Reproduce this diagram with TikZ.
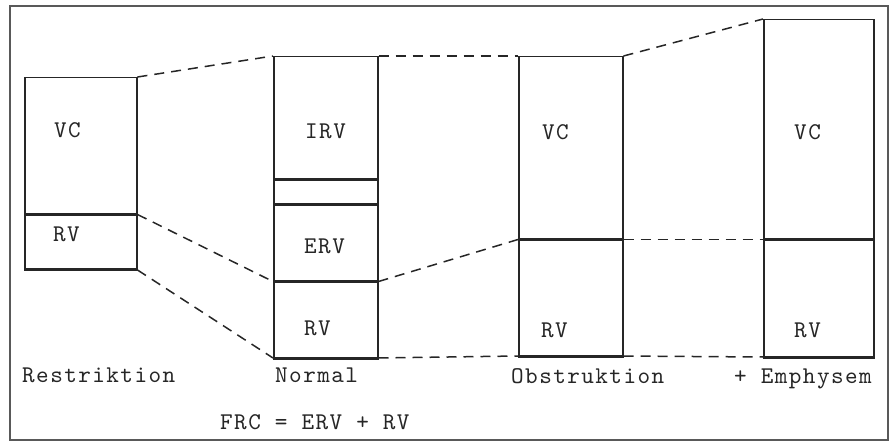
\documentclass[tikz,border=0pt]{standalone}
\usepackage{fontspec}
\usepackage{tikz}
\usetikzlibrary{positioning}
\definecolor{ink}{HTML}{262626}
\newfontfamily\typewfont{lmmono10-regular}[Extension=.otf, LetterSpace=6]
\newcommand{\typew}{\typewfont\fontsize{24}{29}\selectfont}
\tikzset{
  seg/.style 2 args={draw=ink, line width=1.5pt, minimum width=#1, minimum height=#2, inner sep=0pt},
  link/.style={ink, line width=1.5pt, dash pattern=on 10pt off 7pt},
  base/.style={ink, line width=3pt},
  lbl/.style={anchor=base west, inner sep=0pt, text=ink, font=\typew},
}
\begin{document}
\begin{tikzpicture}[x=1pt,y=-1pt]
  \useasboundingbox (0,0) rectangle (893,443);
  \draw[black!65, line width=1.5pt] (10,6) rectangle (888,440);
  % columns
  \node[seg={112}{136}, anchor=north west] (res-vc) at (24,77) {};
  \node[seg={112}{54}, below=0pt of res-vc] (res-rv) {};
  \node[seg={104}{122}, anchor=north west] (nor-irv) at (273,56) {};
  \node[seg={104}{24}, below=0pt of nor-irv] (nor-gap) {};
  \node[seg={104}{75}, below=0pt of nor-gap] (nor-erv) {};
  \node[seg={104}{75}, below=0pt of nor-erv] (nor-rv) {};
  \node[seg={104}{182}, anchor=north west] (obs-vc) at (518,56) {};
  \node[seg={104}{115}, below=0pt of obs-vc] (obs-rv) {};
  \node[seg={110}{219}, anchor=north west] (emp-vc) at (763,19) {};
  \node[seg={110}{116}, below=0pt of emp-vc] (emp-rv) {};
  \foreach \c in {res,nor,obs,emp} \draw[base] (\c-rv.south west) -- (\c-rv.south east);
  % dashed links
  \draw[link] (res-vc.north east) -- (nor-irv.north west);
  \draw[link] (res-rv.north east) -- (nor-rv.north west);
  \draw[link] (res-rv.south east) -- (nor-rv.south west);
  \draw[link] (nor-irv.north east) -- (obs-vc.north west);
  \draw[link] (nor-rv.north east) -- (obs-rv.north west);
  \draw[link] (nor-rv.south east) -- (obs-rv.south west);
  \draw[link] (obs-vc.north east) -- (emp-vc.north west);
  \draw[link] (obs-rv.north east) -- (emp-rv.north west);
  \draw[link] (obs-rv.south east) -- (emp-rv.south west);
  % labels
  \node[lbl] (res-vc-t) at (54,138) {VC};
  \node[lbl] (res-rv-t) at (53,242) {RV};
  \node[lbl] (nor-irv-t) at (305,139) {IRV};
  \node[lbl] (nor-erv-t) at (304,254) {ERV};
  \node[lbl] (nor-rv-t) at (304,335) {RV};
  \node[lbl] (obs-vc-t) at (542,140) {VC};
  \node[lbl] (obs-rv-t) at (541,337) {RV};
  \node[lbl] (emp-vc-t) at (794,140) {VC};
  \node[lbl] (emp-rv-t) at (794,337) {RV};
  \node[lbl] (res-t) at (22,382) {Restriktion};
  \node[lbl] (nor-t) at (275,382) {Normal};
  \node[lbl] (obs-t) at (511,383) {Obstruktion};
  \node[lbl] (emp-t) at (734,383) {+ Emphysem};
  \node[lbl] (frc) at (220,429) {FRC = ERV + RV};
\end{tikzpicture}
\end{document}
